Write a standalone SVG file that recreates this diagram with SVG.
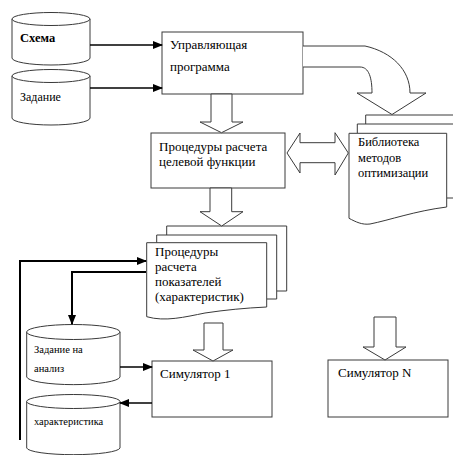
<svg xmlns="http://www.w3.org/2000/svg" width="453" height="455" viewBox="0 0 453 455" font-family="'Liberation Serif', serif">
<style>
.shape{fill:#fff;stroke:#3a3a3a;stroke-width:1}
.sheet{fill:#fff;stroke:#3a3a3a;stroke-width:1}
.t{font-size:13px;fill:#000}
.ts{font-size:10.5px;fill:#000}
.line{fill:none;stroke:#000;stroke-width:1.5}
.thick{fill:none;stroke:#000;stroke-width:2}
</style>
<defs>
<marker id="ah" markerUnits="userSpaceOnUse" markerWidth="10" markerHeight="8" refX="9" refY="4" orient="auto">
<path d="M0,0 L10,4 L0,8 Z" fill="#000"/>
</marker>
</defs>
<rect width="453" height="455" fill="#fff"/>

<g id="schema">
<path class="shape" d="M12,19 V58 A39,7 0 0 0 90,58 V19"/>
<ellipse class="shape" cx="51" cy="19" rx="39" ry="6.5"/>
<text class="t" x="20" y="42" font-family="Liberation Serif" font-weight="bold" style="font-size:12.5px">Схема</text>
</g>

<g id="task">
<path class="shape" d="M12,76 V118 A39,7 0 0 0 90,118 V76"/>
<ellipse class="shape" cx="51" cy="76" rx="39" ry="6.5"/>
<text class="t" x="20" y="101" font-family="Liberation Serif" style="font-size:12px">Задание</text>
</g>

<g id="control">
<rect class="shape" x="162" y="32" width="141" height="62"/>
<text class="t" x="170" y="49" font-family="Liberation Serif">Управляющая</text>
<text class="t" x="170" y="71" font-family="Liberation Serif">программа</text>
</g>

<g id="objective">
<rect class="shape" x="151" y="133" width="134" height="55"/>
<text class="t" x="159" y="151" font-family="Liberation Serif">Процедуры расчета</text>
<text class="t" x="159" y="166" font-family="Liberation Serif">целевой функции</text>
</g>

<g id="library">
<path class="sheet" d="M365.7,124 V115 H470 V190 H458"/>
<path class="sheet" d="M357.3,133.3 V124 H458 V198 H446.7"/>
<path class="sheet" d="M349,218.3 V133.3 H446.7 V207 C415,211 390,220 370,224 C362,225 356,222 349,218.3 Z"/>
<text class="t" x="358" y="146" font-family="Liberation Serif" style="font-size:12.5px">Библиотека</text>
<text class="t" x="358" y="162" font-family="Liberation Serif" style="font-size:12.5px">методов</text>
<text class="t" x="358" y="177" font-family="Liberation Serif" style="font-size:12.5px">оптимизации</text>
</g>

<g id="indicators">
<path class="sheet" d="M166.7,235 V226 H286.7 V291 H276.7"/>
<path class="sheet" d="M156.7,242.7 V235 H276.7 V299 H266.7"/>
<path class="sheet" d="M146.7,316.7 V242.7 H266.7 V307 C245,308 225,310 205,313 C185,317 165,322 146.7,316.7 Z"/>
<text class="t" x="155" y="256" font-family="Liberation Serif">Процедуры</text>
<text class="t" x="155" y="271" font-family="Liberation Serif">расчета</text>
<text class="t" x="155" y="286" font-family="Liberation Serif">показателей</text>
<text class="t" x="155" y="301" font-family="Liberation Serif">(характеристик)</text>
</g>

<g id="analysis-task">
<path class="shape" d="M26.7,332 V377 A46.7,8 0 0 0 120,377 V332"/>
<ellipse class="shape" cx="73.3" cy="332" rx="46.7" ry="7.5"/>
<text class="ts" x="34" y="353" font-family="Liberation Serif">Задание на</text>
<text class="ts" x="34" y="372" font-family="Liberation Serif">анализ</text>
</g>

<g id="characteristic">
<path class="shape" d="M26.7,401.5 V448 A46.7,7 0 0 0 120,448 V401.5"/>
<ellipse class="shape" cx="73.3" cy="401.5" rx="46.7" ry="7"/>
<text class="ts" x="34" y="425" font-family="Liberation Serif">характеристика</text>
</g>

<g id="sim1">
<rect class="shape" x="152" y="361" width="120" height="56"/>
<text class="t" x="160" y="378" font-family="Liberation Serif">Симулятор 1</text>
</g>

<g id="simN">
<rect class="shape" x="328" y="360" width="120" height="57"/>
<text class="t" x="338" y="377" font-family="Liberation Serif">Симулятор N</text>
</g>

<g id="connectors">
<line class="line" x1="90" y1="45" x2="162" y2="45" marker-end="url(#ah)"/>
<line class="line" x1="90" y1="88" x2="162" y2="88" marker-end="url(#ah)"/>
<polygon class="shape" points="211,94 211,122 200,122 221.5,132.7 243,122 232,122 232,94"/>
<polygon class="shape" points="210,188 210,211.7 200,211.7 221.7,226 243,211.7 231.7,211.7 231.7,188"/>
<path class="shape" d="M303,46 H365 C392,52 410,70 410,93 H426 L392,114.5 L357,93 H372 C372,78 369,67 360,67 H303"/>
<polygon class="shape" points="287,153 300,133 300,142.7 335,142.7 335,132.7 348.3,153 335,175 335,162.7 300,162.7 300,173"/>
<polygon class="shape" points="204,323 204,350 193,350 213,361 233,350 223,350 223,323"/>
<polygon class="shape" points="374,317 374,347 363,347 385,360 406,347 396,347 396,317"/>
<polyline class="thick" points="20,440 20,261 146,261" marker-end="url(#ah)"/>
<polyline class="thick" points="146,272 72,272 72,324" marker-end="url(#ah)"/>
<line class="line" x1="120" y1="367" x2="152" y2="367" marker-end="url(#ah)"/>
<line class="line" x1="152" y1="403" x2="120" y2="403" marker-end="url(#ah)"/>
</g>
</svg>
